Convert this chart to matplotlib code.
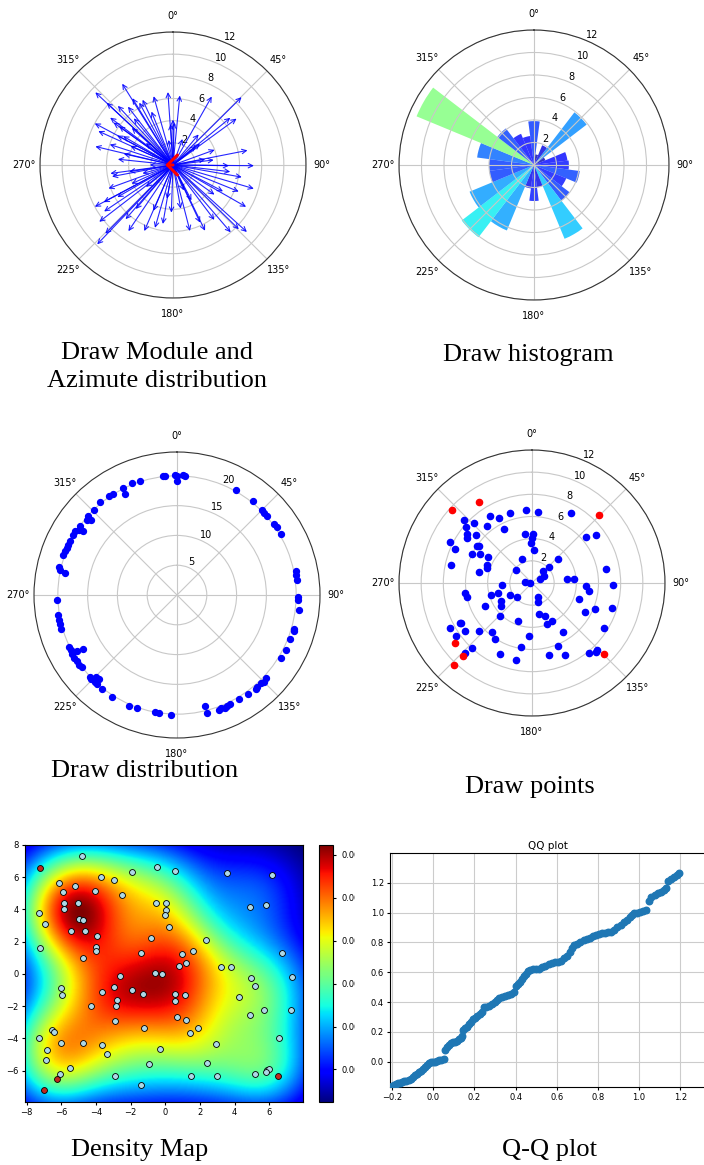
import numpy as np
import matplotlib
matplotlib.use("Agg")
import matplotlib.pyplot as plt
from matplotlib.patches import Rectangle

W, H = 704, 1165

# ---- panel 1: module / azimuth arrows (deg clockwise from north, length)
arrow_deg = [313.1, 328, 328.7, 335, 344.3, 356, 5.6, 313.2, 317, 322.3, 331.6, 307,
             305.5, 298, 294.4, 305.7, 297.8, 283.4, 282.8, 294, 309, 0, 1.5, 356.7,
             29.5, 45.3, 50.5, 53.9, 51.8, 50, 78.9, 90.5, 82.9, 80, 90.7, 96.7, 106.3,
             119.8, 117.8, 125.5, 134.3, 132.2, 139.4, 154, 154.8, 165.6, 152.4, 156.9,
             182, 189.8, 203.5, 203.2, 220.2, 221.2, 223.7, 224.6, 232.4, 241.9, 241.8,
             240, 262.3, 259.3, 261.3, 254.5, 270, 245.7, 231, 320, 312, 338, 300, 288,
             276, 250, 236, 214, 196, 170, 143, 112, 100, 70, 40, 20, 350, 190]
arrow_len = [9.6, 8.65, 7.05, 6.5, 6.45, 6.6, 6.3, 8.2, 7.3, 6.65, 6.4, 7.1,
             6.6, 8.0, 7.4, 6.0, 5.7, 7.2, 4.55, 4.2, 3.15, 4.1, 3.8, 3.7,
             7.1, 8.7, 6.7, 7.1, 3.1, 2.7, 6.85, 7.3, 3.7, 2.95, 5.05, 5.2, 7.6,
             7.6, 5.1, 4.6, 8.3, 9.0, 8.0, 6.6, 5.75, 6.15, 3.6, 2.5,
             4.3, 5.4, 6.5, 4.5, 5.2, 6.5, 9.9, 8.7, 8.4, 8.0, 7.1,
             5.8, 5.7, 5.6, 4.0, 2.86, 2.1, 4.1, 3.15, 5.5, 5.0, 5.2, 5.2, 6.0,
             5.0, 6.2, 7.5, 7.2, 5.9, 4.0, 6.2, 6.4, 6.3, 4.0, 3.6, 2.5, 2.3, 3.1]
mean_deg, mean_len = 270, 0.7

# ---- panel 2: rose histogram (bin centre deg, count)
bin_deg = [0, 15, 30, 45, 60, 75, 90, 105, 120, 135, 150, 165,
           180, 195, 210, 225, 240, 255, 270, 285, 300, 315, 330, 345]
bin_count = [3.9, 0.95, 1.9, 5.9, 1.1, 3.0, 3.1, 4.1, 3.1, 4.0, 7.1, 2.0,
             3.2, 2.1, 6.3, 8.1, 6.2, 4.0, 4.0, 5.1, 11.3, 4.1, 3.0, 2.6]

# ---- panel 3: distribution points (deg, r)
dist_deg = [353.2, 354.4, 359.2, 0, 2.9, 4, 0,
            29.6, 39, 44.8, 46.5, 49, 54, 56, 59.7, 78.4, 80.5, 82.9, 90.8, 92.4, 97,
            106, 107, 111, 117, 121,
            133, 135, 136.4, 139, 140, 144.5, 149, 153.8, 155.6, 157, 158.9, 159.8, 165.7, 165.7,
            182.9, 188.7, 190.4, 199.5, 203.6, 212.5, 218.4, 222, 223.5, 225.6, 226.7, 223, 224.5,
            233, 234.7, 236.5, 238.5, 240.6, 242.6, 244.3, 240.4, 240.7, 253.8, 256, 258, 260.5, 267.6,
            282.1, 283.6, 281.4, 289.4, 291.2, 293, 294.8, 296.6, 300, 302.2, 303.6, 305.3, 304.2,
            310, 311.6, 311.1, 315.8, 320.6, 325.6, 327.9, 333.4, 332.9, 338, 342.1]
dist_r = [20.1, 20.1, 20.1, 19.9, 20.1, 20.0, 19.1,
          20.2, 20.2, 20.2, 20.1, 20.1, 20.2, 20.3, 20.3, 20.4, 20.3, 20.3, 20.3, 20.3, 20.6,
          20.4, 20.5, 20.4, 20.5, 20.4,
          20.5, 20.6, 20.5, 20.4, 20.6, 20.4, 20.3, 20.3, 20.5, 20.6, 20.4, 20.6, 19.3, 20.4,
          20.2, 20.0, 20.0, 20.1, 20.3, 20.2, 20.2, 20.1, 20.1, 20.1, 20.1, 19.2, 19.3,
          20.0, 20.2, 20.2, 20.2, 20.2, 20.1, 20.2, 18.2, 19.2, 20.2, 20.3, 20.3, 20.3, 20.2,
          20.1, 20.3, 19.1, 20.3, 20.2, 20.1, 20.1, 20.1, 20.2, 20.2, 19.8, 19.9, 19.0,
          19.7, 19.9, 19.2, 20.0, 20.3, 20.1, 20.1, 20.1, 19.1, 20.3, 20.1]

# ---- panel 4: points (deg, r), outliers in red
pt_deg = [355.5, 4.6, 342.6, 333.1, 327.7, 312.6, 316.3, 310.7, 321.5, 332.9, 29.5,
          352.1, 0.8, 0, 359, 3, 337.4, 49.2, 53.2, 48.1, 47.9, 40.9, 296.8, 293.9,
          306.6, 304.6, 310.4, 303.7, 305, 295.8, 299.3, 300.6, 291.4, 288.4, 281.5,
          282.5, 310.4, 60.3, 64.4, 82.9, 84.1, 79.2, 91.7, 93.5, 98.4, 108.9, 112.4,
          118.8, 107.6, 121.7, 135.7, 136.9, 140.7, 155.5, 166.8, 157.6, 147.5, 152,
          159.8, 158.6, 167.7, 157.3, 162.2, 275.7, 270, 266.7, 261.5, 257.6, 253.1,
          253.3, 241.7, 227, 244.4, 239.4, 233.9, 224.1, 201, 183.6, 189.6, 191.8,
          204.1, 213.2, 219.2, 227.7, 234.6, 240.8, 240.7, 241.3, 234.9, 223.9, 222.7]
pt_r = [6.63, 6.44, 6.60, 6.56, 7.10, 8.36, 7.54, 7.80, 6.58, 5.52, 7.21,
        4.44, 4.39, 4.09, 3.64, 2.94, 2.36, 6.40, 7.19, 3.18, 2.12, 1.48, 8.25, 7.62,
        7.36, 7.10, 6.69, 6.01, 5.81, 6.06, 5.39, 4.65, 4.39, 4.31, 4.86,
        7.45, 1.87, 1.22, 0.84, 3.21, 3.81, 6.79, 7.28, 4.92, 5.21, 4.48, 6.13,
        5.47, 7.53, 7.66, 8.46, 8.51, 8.14, 7.09, 6.63, 6.13, 5.24, 3.88,
        3.94, 3.16, 2.85, 1.41, 1.78, 0.61, 0.21, 2.67, 6.13, 6.05, 3.86,
        3.16, 2.24, 1.87, 4.70, 3.27, 3.45, 4.14, 3.64, 4.80, 5.84, 7.12,
        7.04, 6.08, 5.75, 6.44, 7.43, 7.46, 7.30, 8.40, 8.33, 8.74, 8.04]
out_deg = [312.3, 327, 44.7, 231.7, 223.5, 223.7, 134.6]
out_r = [9.8, 8.7, 8.6, 8.8, 9.1, 10.2, 9.07]

# ---- panel 5: density map points (x, y), red = outliers
dens_x = [-4.80, -6.16, -5.90, -5.22, -5.86, -5.86, -5.05, -4.99, -4.76, -5.44, -4.64,
          -7.32, -6.97, -7.26, -4.08, -3.73, -3.92, -4.02, -3.98, -4.74, -2.95, -2.52,
          -1.94, -0.47, 0.54, -0.52, 0.06, 0.02, 0.00, 0.19, -0.85, -1.38, 2.33, 1.61,
          0.99, 1.18, 0.78, 3.20, 3.81, 3.55, 4.87, 5.79, 6.14, 6.72, 7.34, 4.97, 5.20,
          4.27, 4.87, 5.69, 7.28, 6.56, -0.58, -0.17, -2.62, -2.95, -1.92, -1.26, 0.56,
          0.58, 1.11, 0.68, 1.18, 1.88, 1.40, -3.63, -2.76, -2.85, -4.27, -2.89, -1.24,
          -6.00, -5.94, -6.54, -6.41, -7.32, -6.00, -4.74, -3.65, -3.34, -6.82, -6.87,
          -6.06, -5.48, -2.93, -1.40, -0.95, -0.29, 1.48, 2.39, 2.93, 2.97, 5.15, 5.88,
          5.98, 5.84]
dens_y = [7.32, 5.62, 5.10, 5.47, 4.38, 4.02, 4.38, 3.38, 3.34, 2.68, 2.68,
          3.80, 3.07, 1.62, 5.16, 6.03, 2.37, 1.64, 1.44, 1.00, 5.83, 4.89,
          6.34, 6.61, 6.39, 4.42, 4.42, 3.96, 3.65, 2.93, 2.20, 1.27, 2.10, 1.44,
          1.21, 0.65, 0.48, 0.40, 0.40, 6.24, 4.17, 4.27, 6.14, 1.27, -0.18, -0.24, -0.74,
          -1.42, -2.56, -2.25, -2.25, -3.97, 0.07, -0.01, -0.14, -0.80, -1.03, -1.23, -1.25,
          -1.67, -1.32, -2.68, -2.87, -3.35, -3.64, -1.13, -1.63, -1.98, -1.98, -2.93, -3.33,
          -0.90, -1.32, -3.49, -3.61, -3.97, -4.26, -4.26, -4.42, -4.98, -4.73, -5.35,
          -6.24, -5.83, -6.33, -6.87, -5.62, -4.67, -6.33, -5.52, -4.32, -6.33, -6.24, -5.98,
          -5.89, -6.08]
dens_out_x = [-7.22, -6.25, -7.03, 6.52]
dens_out_y = [6.55, -6.53, -7.22, -6.31]

# ---- panel 6: QQ plot
qq_x = [-0.200, -0.190, -0.180, -0.170, -0.160, -0.150, -0.140, -0.130, -0.120, -0.110,
        -0.100, -0.090, -0.080, -0.070, -0.060, -0.050, -0.040, -0.030, -0.020, -0.010,
        0.000, 0.010, 0.020, 0.030, 0.040, 0.050, 0.055, 0.065, 0.075, 0.085,
        0.095, 0.105, 0.115, 0.125, 0.135, 0.140, 0.145, 0.155, 0.165, 0.175,
        0.185, 0.195, 0.205, 0.215, 0.225, 0.235, 0.245, 0.255, 0.270, 0.285,
        0.300, 0.310, 0.320, 0.335, 0.350, 0.365, 0.380, 0.390, 0.400, 0.410,
        0.420, 0.430, 0.440, 0.450, 0.460, 0.470, 0.485, 0.500, 0.515, 0.530,
        0.545, 0.560, 0.575, 0.590, 0.605, 0.620, 0.635, 0.650, 0.665, 0.675,
        0.685, 0.700, 0.715, 0.730, 0.745, 0.760, 0.775, 0.790, 0.805, 0.820,
        0.835, 0.850, 0.865, 0.880, 0.895, 0.910, 0.925, 0.940, 0.955, 0.965,
        0.975, 0.990, 1.005, 1.020, 1.035, 1.050, 1.060, 1.075, 1.090, 1.105,
        1.120, 1.130, 1.140, 1.155, 1.170, 1.185, 1.195]
qq_y = [-0.160, -0.155, -0.150, -0.145, -0.140, -0.135, -0.132, -0.130, -0.125, -0.115,
        -0.105, -0.090, -0.080, -0.070, -0.062, -0.050, -0.035, -0.020, -0.008, 0.000,
        0.000, 0.000, 0.003, 0.008, 0.012, 0.015, 0.080, 0.100, 0.115, 0.125,
        0.130, 0.135, 0.140, 0.150, 0.160, 0.170, 0.215, 0.225, 0.235, 0.250,
        0.265, 0.285, 0.295, 0.305, 0.320, 0.335, 0.365, 0.370, 0.375, 0.385,
        0.400, 0.415, 0.425, 0.432, 0.438, 0.445, 0.455, 0.465, 0.505, 0.520,
        0.535, 0.555, 0.575, 0.590, 0.605, 0.618, 0.620, 0.622, 0.625, 0.635,
        0.645, 0.655, 0.660, 0.668, 0.672, 0.678, 0.695, 0.712, 0.735, 0.760,
        0.785, 0.790, 0.805, 0.815, 0.825, 0.832, 0.840, 0.848, 0.855, 0.860,
        0.865, 0.868, 0.872, 0.885, 0.905, 0.920, 0.935, 0.950, 0.970, 0.985,
        1.000, 1.000, 1.005, 1.010, 1.015, 1.080, 1.105, 1.120, 1.130, 1.140,
        1.155, 1.165, 1.215, 1.225, 1.240, 1.255, 1.268]

captions = [("Draw Module and\nAzimute distribution", 157, 367),
            ("Draw histogram", 528, 355),
            ("Draw distribution", 145, 771),
            ("Draw points", 530, 787),
            ("Density Map", 140, 1150),
            ("Q-Q plot", 550, 1150)]

fig = plt.figure(figsize=(W / 100, H / 100), dpi=100)


def px_axes(left, top, right, bottom, **kw):
    return fig.add_axes([left / W, 1 - bottom / H, (right - left) / W, (bottom - top) / H], **kw)


def polar_axes(cx, cy, r, rmax, rticks):
    ax = px_axes(cx - r, cy - r, cx + r, cy + r, projection="polar")
    ax.set_theta_zero_location("N")
    ax.set_theta_direction(-1)
    ax.set_ylim(0, rmax)
    ax.set_yticks(rticks)
    ax.tick_params(labelsize=7, pad=1)
    ax.grid(color="#c8c8c8", lw=0.8)
    ax.spines["polar"].set_color("#333333")
    return ax


# panel 1
ax1 = polar_axes(173, 165, 133, 12, [2, 4, 6, 8, 10, 12])
for d, l in zip(arrow_deg, arrow_len):
    ax1.annotate("", xy=(np.radians(d), l), xytext=(0, 0),
                 arrowprops=dict(arrowstyle="->", color="blue", lw=0.8, alpha=0.85,
                                 shrinkA=0, shrinkB=0, mutation_scale=8))
ax1.annotate("", xy=(np.radians(mean_deg), mean_len), xytext=(0, 0),
             arrowprops=dict(arrowstyle="->,head_length=0.9,head_width=0.9", color="red",
                             lw=2.2, shrinkA=0, shrinkB=0, mutation_scale=8), zorder=5)
fig.text(173 / W, 1.006, "Sample size, n = 90", ha="center", va="center", fontsize=8)

# panel 2
ax2 = polar_axes(534, 165, 135, 12, [2, 4, 6, 8, 10, 12])
counts = np.array(bin_count)
bars = ax2.bar(np.radians(bin_deg), counts, width=np.radians(15), bottom=0.0)
for c, b in zip(counts, bars):
    b.set_facecolor(plt.cm.jet(c / (2 * counts.max())))
    b.set_alpha(0.8)

# panel 3
ax3 = polar_axes(177, 595, 143, 24, [5, 10, 15, 20])
ax3.scatter(np.radians(dist_deg), dist_r, s=18, color="blue", zorder=3)

# panel 4
ax4 = polar_axes(532, 583, 133, 12, [2, 4, 6, 8, 10, 12])
ax4.scatter(np.radians(pt_deg), pt_r, s=20, color="blue", zorder=3)
ax4.scatter(np.radians(out_deg), out_r, s=20, color="red", zorder=3)

# panel 5: density map (gaussian KDE of the points)
ax5 = px_axes(25, 845, 303, 1102)
xlim, ylim = (-8.1, 7.95), (-7.95, 8.0)
all_x = np.array(dens_x + dens_out_x)
all_y = np.array(dens_y + dens_out_y)
gx, gy = np.meshgrid(np.linspace(*xlim, 300), np.linspace(*ylim, 300))
h = 1.9
dens = np.zeros_like(gx)
for px, py in zip(all_x, all_y):
    dens += np.exp(-((gx - px) ** 2 + (gy - py) ** 2) / (2 * h * h))
dens /= len(all_x) * 2 * np.pi * h * h
im = ax5.imshow(dens, extent=[*xlim, *ylim], origin="lower", cmap="jet",
                aspect="auto", interpolation="bilinear")
ax5.scatter(dens_x, dens_y, s=18, c="lightblue", edgecolors="black", linewidths=0.6, zorder=3)
ax5.scatter(dens_out_x, dens_out_y, s=18, c="#c0281e", edgecolors="black", linewidths=0.6, zorder=3)
ax5.set_xlim(*xlim)
ax5.set_ylim(*ylim)
ax5.set_xticks(np.arange(-8, 7, 2))
ax5.set_yticks(np.arange(-6, 9, 2))
ax5.tick_params(labelsize=6, pad=2, length=2.5)
cax = px_axes(319, 845, 333, 1102)
cb = fig.colorbar(im, cax=cax)
cb.ax.tick_params(labelsize=6, length=2.5)
cb.formatter = matplotlib.ticker.FormatStrFormatter("%.4f")
cb.update_ticks()

# crop the colour bar labels like the pasted screenshot
fig.patches.append(Rectangle((355 / W, 1 - 1110 / H), 1, 280 / H, transform=fig.transFigure,
                             facecolor="white", edgecolor="none", zorder=5))

# panel 6
ax6 = px_axes(390, 853, 706, 1087)
ax6.set_zorder(10)
ax6.scatter(qq_x, qq_y, s=22, color="tab:blue", zorder=3)
ax6.set_xlim(-0.21, 1.325)
ax6.set_ylim(-0.17, 1.40)
ax6.set_xticks(np.arange(-0.2, 1.21, 0.2))
ax6.set_yticks(np.arange(0.0, 1.21, 0.2))
ax6.grid(True, color="#cccccc", lw=0.8)
ax6.set_axisbelow(True)
ax6.tick_params(labelsize=6, pad=2, length=2.5)
ax6.set_title("QQ plot", fontsize=7.5, pad=3)

for txt, x, y in captions:
    fig.text(x / W, 1 - y / H, txt, ha="center", va="center", fontsize=19,
             family="Liberation Serif", linespacing=1.3, zorder=20)

fig.savefig("out.png", dpi=100)
